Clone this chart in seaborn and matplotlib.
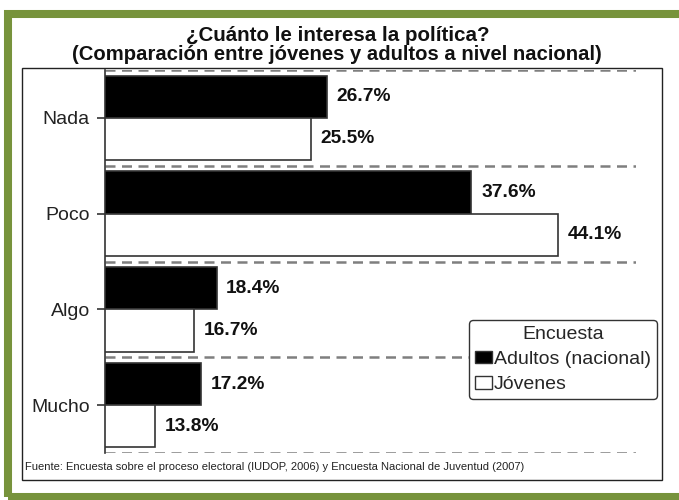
import matplotlib
matplotlib.use("Agg")
import matplotlib.pyplot as plt
import seaborn as sns
import pandas as pd
from matplotlib.patches import Rectangle

categories = ["Nada", "Poco", "Algo", "Mucho"]
adultos = [26.7, 37.6, 18.4, 17.2]
jovenes = [25.5, 44.1, 16.7, 13.8]
series_names = ["Adultos (nacional)", "Jóvenes"]

df = pd.DataFrame({
    "Interés": categories * 2,
    "Porcentaje": adultos + jovenes,
    "Encuesta": [series_names[0]] * 4 + [series_names[1]] * 4,
})

sns.set_theme(style="white")
plt.rcParams["font.family"] = ["Liberation Sans", "DejaVu Sans"]

W, H = 679, 500
fig = plt.figure(figsize=(W / 100, H / 100), dpi=100)
ax = fig.add_axes([105 / W, 1 - 453 / H, (636 - 105) / W, (453 - 70) / H])

sns.barplot(data=df, y="Interés", x="Porcentaje", hue="Encuesta", orient="h",
            order=categories, hue_order=series_names,
            palette={series_names[0]: "black", series_names[1]: "white"},
            edgecolor="#333333", linewidth=1.2, width=0.88, ax=ax, legend=True)

ax.set_xlim(10, 50)
ax.set_ylim(3.5, -0.5)
ax.set_xlabel("")
ax.set_ylabel("")
ax.set_xticks([])
for s in ["top", "right", "bottom"]:
    ax.spines[s].set_visible(False)
ax.spines["left"].set_color("#333333")
ax.spines["left"].set_linewidth(1.2)
ax.tick_params(axis="y", which="major", left=True, length=6, width=1.2,
               color="#333333", pad=5, labelsize=14, labelcolor="#222222")
ax.set_yticks([-0.5, 0.5, 1.5, 2.5, 3.5], minor=True)
ax.tick_params(axis="y", which="minor", length=0)
ax.grid(False)
ax.grid(True, which="minor", axis="y", color="#7f7f7f", lw=1.8,
        ls=(0, (4, 2.6)))
ax.set_axisbelow(True)

for cont in ax.containers:
    ax.bar_label(cont, fmt="%.1f%%", padding=7, fontsize=13.8,
                 fontweight="bold", color="#111111")

handles, labels = ax.get_legend_handles_labels()
ax.get_legend().remove()
leg = fig.legend(handles, labels, title="Encuesta", loc="upper right",
                 bbox_to_anchor=(657 / W, 1 - 320 / H), fontsize=14,
                 title_fontsize=14, frameon=True, fancybox=True,
                 handlelength=0.9, handleheight=0.6, handletextpad=0.1,
                 borderpad=0.3, labelspacing=0.42, borderaxespad=0.0)
leg.get_frame().set_edgecolor("#333333")
leg.get_frame().set_linewidth(1.0)
leg.get_frame().set_facecolor("white")
leg.get_frame().set_alpha(1)
for h in leg.legend_handles:
    h.set_edgecolor("#333333")
    h.set_linewidth(1.0)

fig.text(338 / W, 1 - 35 / H, "¿Cuánto le interesa la política?",
         ha="center", va="center", fontsize=14.8, fontweight="bold", color="#111111")
fig.text(337 / W, 1 - 55 / H,
         "(Comparación entre jóvenes y adultos a nivel nacional)",
         ha="center", va="center", fontsize=14.6, fontweight="bold", color="#111111")
fig.text(25 / W, 1 - 467 / H,
         "Fuente: Encuesta sobre el proceso electoral (IUDOP, 2006) y Encuesta Nacional de Juventud (2007)",
         ha="left", va="center", fontsize=8, color="#222222")

# inner black box
fig.add_artist(Rectangle((22 / W, 1 - 480 / H), (662 - 22) / W, (480 - 68) / H,
                         transform=fig.transFigure, fill=False,
                         edgecolor="#222222", lw=1.0))
# green frame
fig.add_artist(Rectangle((8 / W, 1 - 497 / H), 1.05, (497 - 14) / H,
                         transform=fig.transFigure, fill=False,
                         edgecolor="#77933C", lw=5.8, clip_on=False))

fig.savefig("out.png", dpi=100, facecolor="white")
